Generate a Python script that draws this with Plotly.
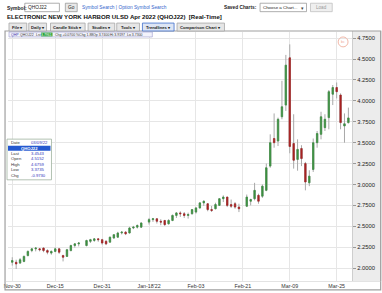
import plotly.graph_objects as go

# ---------------- data ----------------
dates = ["2021-11-30",
         "2021-12-01", "2021-12-02", "2021-12-03", "2021-12-06", "2021-12-07", "2021-12-08", "2021-12-09",
         "2021-12-10", "2021-12-13", "2021-12-14", "2021-12-15", "2021-12-16", "2021-12-17", "2021-12-20",
         "2021-12-21", "2021-12-22", "2021-12-23", "2021-12-24", "2021-12-27", "2021-12-28", "2021-12-29",
         "2021-12-30", "2021-12-31",
         "2022-01-03", "2022-01-04", "2022-01-05", "2022-01-06", "2022-01-07", "2022-01-10", "2022-01-11",
         "2022-01-12", "2022-01-13", "2022-01-14", "2022-01-17", "2022-01-18", "2022-01-19", "2022-01-20",
         "2022-01-21", "2022-01-24", "2022-01-25", "2022-01-26", "2022-01-27", "2022-01-28", "2022-01-31",
         "2022-02-01", "2022-02-02", "2022-02-03", "2022-02-04", "2022-02-07", "2022-02-08", "2022-02-09",
         "2022-02-10", "2022-02-11", "2022-02-14", "2022-02-15", "2022-02-16", "2022-02-17", "2022-02-18",
         "2022-02-21", "2022-02-22", "2022-02-23", "2022-02-24", "2022-02-25", "2022-02-28",
         "2022-03-01", "2022-03-02", "2022-03-03", "2022-03-04", "2022-03-07", "2022-03-08", "2022-03-09",
         "2022-03-10", "2022-03-11", "2022-03-14", "2022-03-15", "2022-03-16", "2022-03-17", "2022-03-18",
         "2022-03-21", "2022-03-22", "2022-03-23", "2022-03-24", "2022-03-25", "2022-03-28", "2022-03-29",
         "2022-03-30"]

opens = [2.07, 2.07, 2.06, 2.08, 2.15, 2.21, 2.23, 2.23, 2.24, 2.21, 2.18, 2.20, 2.23, 2.15, 2.14, 2.21,
         2.27, 2.29, None, 2.27, 2.32, 2.33, 2.35, 2.34, 2.32, 2.31, 2.36, 2.37, 2.42, 2.43, 2.42, 2.48,
         2.49, 2.49, None, 2.55, 2.58, 2.59, 2.56, 2.57, 2.53, 2.57, 2.63, 2.66, 2.65, 2.63, 2.65, 2.67,
         2.72, 2.78, 2.77, 2.70, 2.71, 2.75, 2.83, 2.85, 2.76, 2.77, 2.73, None, 2.74, 2.80, 2.83, 2.87,
         2.86, 2.93, 3.22, 3.55, 3.52, 3.81, 3.95, 4.5152, 3.49, 3.30, 3.43, 3.25, 3.02, 3.18, 3.50,
         3.60, 3.68, 3.80, 4.08, 4.16, 4.07, 3.70, 3.74]
highs = [2.13, 2.10, 2.12, 2.15, 2.21, 2.24, 2.25, 2.24, 2.245, 2.225, 2.21, 2.245, 2.24, 2.16, 2.23, 2.28,
         2.30, 2.31, None, 2.34, 2.35, 2.355, 2.355, 2.35, 2.335, 2.375, 2.40, 2.434, 2.442, 2.442, 2.494,
         2.505, 2.521, 2.545, None, 2.60, 2.60, 2.592, 2.585, 2.573, 2.585, 2.64, 2.671, 2.679, 2.671,
         2.663, 2.703, 2.73, 2.79, 2.81, 2.77, 2.743, 2.782, 2.838, 2.87, 2.85, 2.82, 2.79, 2.77, None,
         2.88, 2.83, 3.02, 2.89, 3.00, 3.25, 3.60, 3.85, 3.80, 4.24, 4.55, 4.6759, 3.84, 3.54, 3.47, 3.27,
         3.17, 3.55, 3.64, 3.87, 3.84, 4.13, 4.19, 4.22, 4.09, 3.85, 3.9197]
lows = [2.03, 1.99, 2.05, 2.07, 2.14, 2.19, 2.20, 2.20, 2.19, 2.165, 2.16, 2.19, 2.17, 2.08, 2.14, 2.20,
        2.245, 2.26, None, 2.26, 2.30, 2.315, 2.315, 2.28, 2.275, 2.31, 2.35, 2.363, 2.403, 2.395, 2.415,
        2.466, 2.474, 2.482, None, 2.521, 2.553, 2.533, 2.513, 2.506, 2.521, 2.561, 2.60, 2.612, 2.60,
        2.592, 2.64, 2.652, 2.711, 2.743, 2.68, 2.671, 2.703, 2.743, 2.79, 2.73, 2.72, 2.71, 2.67, None,
        2.73, 2.75, 2.81, 2.77, 2.84, 2.92, 3.20, 3.44, 3.46, 3.78, 3.88, 3.3735, 3.19, 3.165, 3.22, 2.93,
        2.98, 3.15, 3.44, 3.54, 3.64, 3.66, 3.95, 4.03, 3.66, 3.50, 3.73]
closes = [2.09, 2.05, 2.10, 2.14, 2.20, 2.23, 2.24, 2.22, 2.21, 2.19, 2.20, 2.23, 2.19, 2.13, 2.22, 2.27,
          2.29, 2.30, None, 2.33, 2.34, 2.35, 2.34, 2.30, 2.29, 2.37, 2.40, 2.42, 2.43, 2.41, 2.48, 2.49,
          2.51, 2.54, None, 2.58, 2.59, 2.56, 2.55, 2.52, 2.57, 2.63, 2.66, 2.65, 2.63, 2.64, 2.70, 2.72,
          2.78, 2.80, 2.70, 2.69, 2.76, 2.83, 2.85, 2.75, 2.74, 2.73, 2.71, None, 2.85, 2.82, 2.93, 2.80,
          2.98, 3.20, 3.50, 3.50, 3.78, 3.93, 4.4273, 3.4543, 3.29, 3.42, 3.31, 3.03, 3.10, 3.50, 3.61,
          3.81, 3.78, 4.11, 4.16, 4.11, 3.74, 3.7261, 3.7961]

tick_dates = ["2021-11-30", "2021-12-15", "2021-12-31", "2022-01-18", "2022-02-03",
              "2022-02-21", "2022-03-09", "2022-03-25"]
tick_labels = ["Nov-30", "Dec-15", "Dec-31", "Jan-18'22", "Feb-03", "Feb-21", "Mar-09", "Mar-25"]
y_ticks = [2.0, 2.25, 2.5, 2.75, 3.0, 3.25, 3.5, 3.75, 4.0, 4.25, 4.5, 4.75]

info_labels = ["Last", "Open", "High", "Low", "Chg"]
info_values = ["3.4543", "4.5152", "4.6759", "3.3735", "-0.9730"]
toolbar = ["File \u25be", "Daily \u25be", "Candle Stick \u25be", "Studies \u25be", "Tools \u25be",
           "Trendlines \u25be", "Comparison Chart \u25be"]

# ---------------- page geometry ----------------
W, H = 382, 293
L, R, T, B = 4, 352, 32, 283
FONT = "Liberation Sans, Arial, sans-serif"
GREEN, RED, WICK = "#3a9140", "#a82222", "#a8a8a8"


def px(x):
    return (x - L) / (R - L)


def py(y):
    return (B - y) / (B - T)


shapes, anns = [], []


def rect(x0, y0, x1, y1, fill=None, line=None, lw=1, layer="above"):
    shapes.append(dict(type="rect", xref="paper", yref="paper", x0=px(x0), x1=px(x1),
                       y0=py(y1), y1=py(y0), fillcolor=fill or "rgba(0,0,0,0)",
                       line=dict(color=line or "rgba(0,0,0,0)", width=lw if line else 0),
                       layer=layer))


def text(s, x, y, size=5, color="#222", bold=False, anchor="left"):
    if bold:
        s = "<b>" + s + "</b>"
    anns.append(dict(text=s, xref="paper", yref="paper", x=px(x), y=py(y), xanchor=anchor,
                     yanchor="middle", showarrow=False, borderpad=0,
                     font=dict(family=FONT, size=size, color=color)))


body_hi = [None if o is None else max(o, c) for o, c in zip(opens, closes)]
body_lo = [None if o is None else min(o, c) for o, c in zip(opens, closes)]

fig = go.Figure()
# wicks (gray)
fig.add_trace(go.Candlestick(x=dates, open=opens, high=highs, low=lows, close=closes,
                             increasing=dict(line=dict(color=WICK, width=1), fillcolor=WICK),
                             decreasing=dict(line=dict(color=WICK, width=1), fillcolor=WICK),
                             whiskerwidth=0, hoverinfo="skip", showlegend=False))
# bodies (green / red)
fig.add_trace(go.Candlestick(x=dates, open=opens, high=body_hi, low=body_lo, close=closes,
                             increasing=dict(line=dict(color=GREEN, width=0.6), fillcolor=GREEN),
                             decreasing=dict(line=dict(color=RED, width=0.6), fillcolor=RED),
                             whiskerwidth=0, hoverinfo="skip", showlegend=False))

# ---- chart frame / panels ----
rect(L, 31, 382, 283, fill="white", layer="below")
rect(R, 31, 382, 283, fill="#ececec", layer="below")
rect(R, 31, R + 0.5, 283, fill="#b0b0b0", layer="below")
rect(1, 31, 381, 292, line="#a0a0a0", lw=1.2)
rect(1, 283, 381, 283.6, fill="#c8c8c8")

# ---- top form row ----
text("Symbol:", 2, 7.5, 5, "#222", bold=True)
rect(21, 3, 56, 11.5, fill="white", line="#9a9a9a", lw=0.8)
text("QHOJ22", 23, 7.5, 4.8, "#222")
rect(62, 3, 74, 11.5, fill="#e8e8e8", line="#9a9a9a", lw=0.8)
text("Go", 68, 7.5, 4.8, "#222", anchor="center")
text("Symbol Search | Option Symbol Search", 78, 7.5, 4.8, "#3366cc")
text("Saved Charts:", 222, 7.5, 4.8, "#222", bold=True)
rect(259, 3, 306, 11.5, fill="white", line="#9a9a9a", lw=0.8)
text("Choose a Chart...", 261, 7.5, 4.4, "#222")
text("\u25be", 304, 7.5, 5, "#444", anchor="right")
rect(310, 3, 332, 11.5, fill="#efefef", line="#c0c0c0", lw=0.8)
text("Load", 321, 7.5, 4.6, "#9a9a9a", anchor="center")

# ---- title ----
text("ELECTRONIC NEW YORK HARBOR ULSD Apr 2022 (QHOJ22)  [Real-Time]", 2, 16.8, 6.1, "#111",
     bold=True)

# ---- toolbar ----
btn_x = [(5, 23), (25, 43), (47, 82), (85, 112), (114, 137), (140, 172), (175, 223)]
for (x0, x1), lab in zip(btn_x, toolbar):
    hl = lab.startswith("Trendlines")
    rect(x0, 23, x1, 31, fill="#dde5f4" if hl else "#e6e6e6", line="#3f6fcc" if hl else "#a6a6a6",
         lw=0.8)
    text(lab, (x0 + x1) / 2, 27.2, 4.2, "#222", bold=True, anchor="center")

# ---- legend bar ----
rect(5, 32, 150, 37, fill="#f3f3fb", line="#9a9ad0", lw=0.6)
text("QHP", 6.5, 34.6, 3.5, "#3333aa")
text("QHOJ22", 15, 34.6, 3.5, "#333")
text("Lst", 31, 34.6, 3.5, "#333")
rect(37.5, 32.6, 49, 36.4, fill="#22a033")
text("3.7961", 43.3, 34.6, 3.5, "white", anchor="center")
text("Chg +0.0700", 50.5, 34.6, 3.5, "#333")
text("%Chg 1.88", 72, 34.6, 3.5, "#333")
text("Op 3.7400", 89, 34.6, 3.5, "#333")
text("Hi 3.9197", 106, 34.6, 3.5, "#333")
text("Lo 3.7300", 123, 34.6, 3.5, "#333")

# ---- watermark ----
shapes.append(dict(type="circle", xref="paper", yref="paper", x0=px(338), x1=px(348),
                   y0=py(47), y1=py(37), line=dict(color="#f2b8a8", width=1),
                   fillcolor="rgba(0,0,0,0)"))
text("bc", 343, 42, 3.5, "#f0a890", anchor="center")

# ---- data box ----
rect(3, 140, 48, 181, fill="white", line="#9fb39f", lw=0.8)
text("Date", 6, 143.5, 4.2, "#333")
text("03/09/22", 26, 143.5, 4.2, "#3333bb")
rect(4, 146.6, 47, 151.6, fill="#2458d0")
text("QHOJ22", 25.5, 149.1, 4.2, "white", bold=True, anchor="center")
for i, (lab, val) in enumerate(zip(info_labels, info_values)):
    yy = 154.6 + i * 5.4
    text(lab, 6, yy, 4.2, "#333")
    text(val, 26, yy, 4.2, "#3333bb")

s = 3.954
fig.update_layout(
    width=W, height=H,
    margin=dict(l=L, r=W - R, t=T, b=H - B, pad=0),
    paper_bgcolor="white", plot_bgcolor="white",
    font=dict(family=FONT, size=6, color="#222"),
    showlegend=False, boxgap=0.5,
    shapes=shapes, annotations=anns,
    xaxis=dict(type="category", categoryorder="array", categoryarray=dates,
               range=[-(8.3 - L) / s, (R - 8.3) / s],
               tickvals=tick_dates, ticktext=tick_labels, tickfont=dict(size=5.3, color="#333"),
               showgrid=True, gridcolor="#e6e6e6", gridwidth=1, ticks="", showline=False,
               zeroline=False, rangeslider=dict(visible=False), fixedrange=True, ticklabelstandoff=1),
    yaxis=dict(side="right", range=[2 - (B - 270) / 84.28, 2 + (270 - T) / 84.28],
               tickvals=y_ticks, tickformat=".4f", tickfont=dict(size=5.8, color="#222"),
               showgrid=True, gridcolor="#e6e6e6", gridwidth=1, ticks="outside", ticklen=3,
               tickcolor="#999", showline=False, zeroline=False, fixedrange=True),
)

fig.write_html("out.html", config={"displayModeBar": False})
